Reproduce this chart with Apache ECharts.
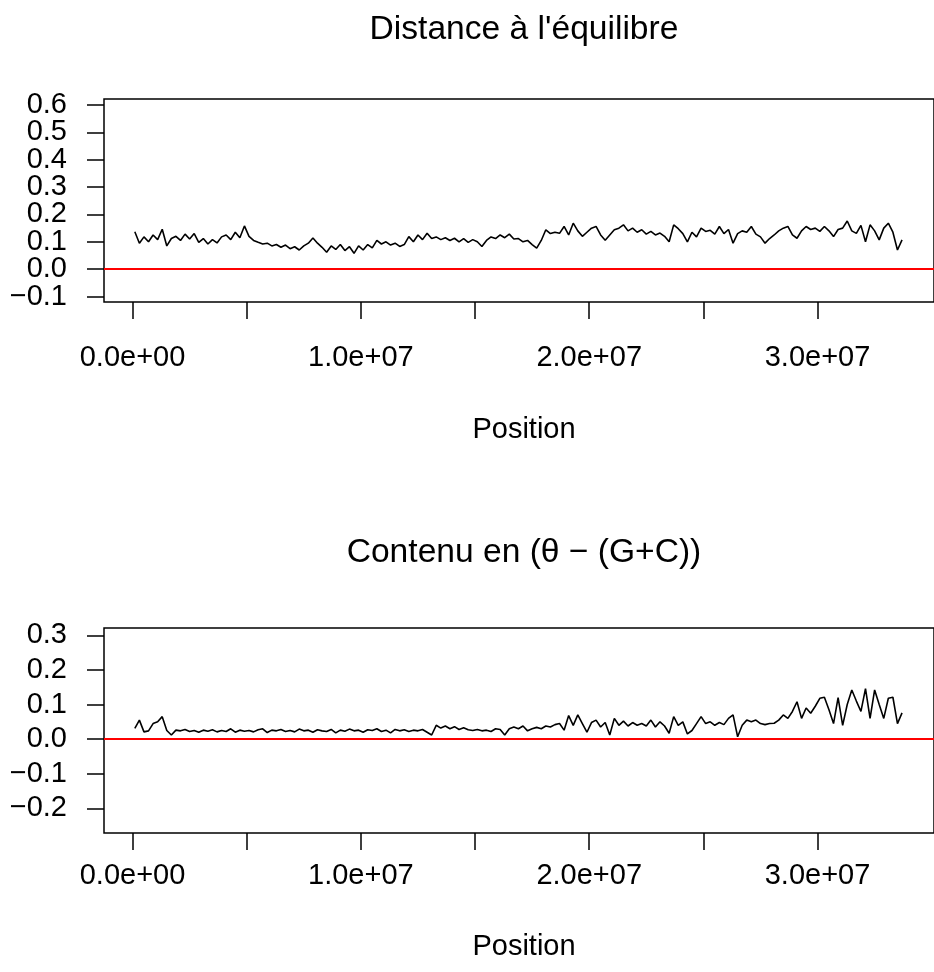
<!DOCTYPE html>
<html>
<head>
<meta charset="utf-8">
<script src="https://cdn.jsdelivr.net/npm/echarts@6/dist/echarts.min.js"></script>
<style>html,body{margin:0;padding:0;background:#fff;}#c{width:934px;height:972px;}</style>
</head>
<body>
<div id="c"></div>
<script>
const positionMb = [0.1,0.3,0.5,0.7,0.9,1.1,1.3,1.5,1.7,1.9,2.1,2.3,2.5,2.7,2.9,3.1,3.3,3.5,3.7,3.9,4.1,4.3,4.5,4.7,4.9,5.1,5.3,5.5,5.7,5.9,6.1,6.3,6.5,6.7,6.9,7.1,7.3,7.5,7.7,7.9,8.1,8.3,8.5,8.7,8.9,9.1,9.3,9.5,9.7,9.9,10.1,10.3,10.5,10.7,10.9,11.1,11.3,11.5,11.7,11.9,12.1,12.3,12.5,12.7,12.9,13.1,13.3,13.5,13.7,13.9,14.1,14.3,14.5,14.7,14.9,15.1,15.3,15.5,15.7,15.9,16.1,16.3,16.5,16.7,16.9,17.1,17.3,17.5,17.7,17.9,18.1,18.3,18.5,18.7,18.9,19.1,19.3,19.5,19.7,19.9,20.1,20.3,20.5,20.7,20.9,21.1,21.3,21.5,21.7,21.9,22.1,22.3,22.5,22.7,22.9,23.1,23.3,23.5,23.7,23.9,24.1,24.3,24.5,24.7,24.9,25.1,25.3,25.5,25.7,25.9,26.1,26.3,26.5,26.7,26.9,27.1,27.3,27.5,27.7,27.9,28.1,28.3,28.5,28.7,28.9,29.1,29.3,29.5,29.7,29.9,30.1,30.3,30.5,30.7,30.9,31.1,31.3,31.5,31.7,31.9,32.1,32.3,32.5,32.7,32.9,33.1,33.3,33.5,33.7];

const distanceEquilibre = [0.137,0.095,0.118,0.100,0.125,0.108,0.146,0.085,0.112,0.120,0.105,0.128,0.110,0.130,0.098,0.112,0.092,0.108,0.096,0.118,0.125,0.108,0.135,0.115,0.158,0.120,0.105,0.098,0.092,0.095,0.085,0.090,0.080,0.088,0.075,0.082,0.070,0.085,0.095,0.114,0.095,0.080,0.062,0.085,0.072,0.090,0.068,0.082,0.058,0.085,0.070,0.090,0.078,0.105,0.092,0.100,0.088,0.095,0.083,0.090,0.119,0.100,0.125,0.108,0.131,0.112,0.118,0.108,0.115,0.105,0.113,0.100,0.112,0.098,0.108,0.100,0.083,0.105,0.118,0.112,0.125,0.115,0.128,0.110,0.112,0.100,0.105,0.090,0.077,0.105,0.144,0.130,0.135,0.131,0.156,0.125,0.168,0.140,0.120,0.135,0.150,0.156,0.125,0.106,0.125,0.144,0.150,0.162,0.140,0.150,0.135,0.144,0.128,0.138,0.125,0.132,0.120,0.100,0.162,0.148,0.130,0.100,0.135,0.118,0.150,0.138,0.142,0.128,0.156,0.130,0.145,0.095,0.130,0.140,0.135,0.156,0.128,0.118,0.095,0.112,0.125,0.140,0.150,0.156,0.125,0.113,0.140,0.156,0.145,0.150,0.138,0.156,0.140,0.119,0.145,0.150,0.176,0.140,0.131,0.160,0.100,0.162,0.140,0.107,0.150,0.168,0.135,0.070,0.107];

const contenuThetaGC = [0.031,0.055,0.021,0.024,0.045,0.050,0.065,0.025,0.012,0.026,0.024,0.028,0.022,0.025,0.020,0.026,0.023,0.027,0.021,0.025,0.022,0.030,0.020,0.026,0.023,0.025,0.021,0.027,0.030,0.019,0.026,0.024,0.028,0.022,0.025,0.021,0.029,0.024,0.026,0.020,0.027,0.024,0.022,0.028,0.018,0.026,0.023,0.029,0.024,0.026,0.020,0.027,0.025,0.030,0.022,0.026,0.018,0.028,0.024,0.027,0.022,0.026,0.024,0.028,0.020,0.012,0.040,0.032,0.038,0.030,0.036,0.028,0.033,0.027,0.025,0.028,0.024,0.026,0.022,0.030,0.028,0.012,0.030,0.035,0.030,0.038,0.024,0.030,0.034,0.030,0.038,0.035,0.042,0.045,0.026,0.068,0.040,0.070,0.045,0.020,0.048,0.055,0.035,0.048,0.012,0.060,0.040,0.052,0.038,0.048,0.040,0.045,0.038,0.055,0.035,0.050,0.038,0.017,0.065,0.040,0.050,0.015,0.025,0.045,0.065,0.045,0.050,0.040,0.048,0.042,0.060,0.070,0.007,0.040,0.055,0.050,0.055,0.045,0.042,0.045,0.046,0.055,0.070,0.060,0.080,0.108,0.060,0.090,0.075,0.095,0.118,0.121,0.085,0.045,0.120,0.040,0.100,0.142,0.110,0.080,0.146,0.060,0.142,0.100,0.060,0.118,0.121,0.045,0.076];

const xTickValues = [0, 5e6, 1e7, 1.5e7, 2e7, 2.5e7, 3e7];
const xLabelValues = [0, 1e7, 2e7, 3e7];
const yTicksTopA = [-0.1, 0.1, 0.3, 0.5];
const yTicksTopB = [0, 0.2, 0.4, 0.6];
const yTicksBottom = [-0.2, -0.1, 0, 0.1, 0.2, 0.3];
const titleTop = "Distance à l'équilibre";
const titleBottom = "Contenu en (θ − (G+C))";
const xName = "Position";

const FONT = "'Liberation Sans', Arial, Helvetica, sans-serif";
const chart = echarts.init(document.getElementById('c'), null, {renderer: 'canvas'});

function sciLabel(v) {
  if (v === 0) return '0.0e+00';
  const e = Math.floor(Math.log10(Math.abs(v)) + 1e-9);
  const m = v / Math.pow(10, e);
  return m.toFixed(1) + 'e+' + String(e).padStart(2, '0');
}
function yLabel(v) {
  const s = Math.abs(v) < 1e-9 ? '0.0' : v.toFixed(1);
  return s.replace('-', '\u2212');
}
const pairs = (vals) => vals.map((v, i) => [positionMb[i] * 1e6, v]);

function xAxisCfg(gridIndex, margin) {
  return {
    type: 'value', gridIndex: gridIndex, position: 'bottom', min: -1.25e6, max: 35.1e6,
    axisLine: {show: false, onZero: false},
    splitLine: {show: false},
    axisTick: {show: true, inside: false, customValues: xTickValues, length: 17, lineStyle: {color: '#000', width: 1.5}},
    axisLabel: {customValues: xLabelValues, formatter: sciLabel, margin: margin, hideOverlap: false,
      fontSize: 29, fontFamily: FONT, color: '#000', showMinLabel: true, showMaxLabel: true}
  };
}
function yAxisCfg(gridIndex, min, max, ticks) {
  return {
    type: 'value', gridIndex: gridIndex, position: 'left', offset: 0, min: min, max: max,
    axisLine: {show: false, onZero: false},
    splitLine: {show: false},
    axisTick: {show: true, inside: false, customValues: ticks, length: 17, lineStyle: {color: '#000', width: 1.5}},
    axisLabel: {customValues: ticks, formatter: yLabel, margin: 37, hideOverlap: false,
      fontSize: 29, fontFamily: FONT, color: '#000', showMinLabel: true, showMaxLabel: true}
  };
}
function lineSeries(xIdx, yIdx, vals) {
  return {
    type: 'line', xAxisIndex: xIdx, yAxisIndex: yIdx, data: pairs(vals),
    symbol: 'none', showSymbol: false, smooth: false,
    lineStyle: {color: '#000', width: 1.6},
    markLine: {silent: true, symbol: 'none', label: {show: false},
      lineStyle: {color: '#ff0000', width: 2, type: 'solid'},
      data: [{yAxis: 0}], animation: false},
    z: 3
  };
}

chart.setOption({
  animation: false,
  backgroundColor: '#fff',
  grid: [
    {left: 104, top: 99, width: 840, height: 203, show: true, borderColor: '#000', borderWidth: 1.5, backgroundColor: 'transparent'},
    {left: 104, top: 628, width: 840, height: 205, show: true, borderColor: '#000', borderWidth: 1.5, backgroundColor: 'transparent'}
  ],
  xAxis: [xAxisCfg(0, 41), xAxisCfg(1, 28)],
  yAxis: [
    yAxisCfg(0, -0.12, 0.622, yTicksTopA),
    yAxisCfg(1, -0.271, 0.321, yTicksBottom),
    yAxisCfg(0, -0.12, 0.622, yTicksTopB)
  ],
  series: [lineSeries(0, 0, distanceEquilibre), lineSeries(1, 1, contenuThetaGC)],
  graphic: [
    {type: 'text', x: 524, y: 30, style: {text: titleTop, fontSize: 33.6, fontFamily: FONT, fill: '#000', align: 'center', verticalAlign: 'middle'}},
    {type: 'text', x: 524, y: 553, style: {text: titleBottom, fontSize: 33.6, fontFamily: FONT, fill: '#000', align: 'center', verticalAlign: 'middle'}},
    {type: 'text', x: 524, y: 430, style: {text: xName, fontSize: 29, fontFamily: FONT, fill: '#000', align: 'center', verticalAlign: 'middle'}},
    {type: 'text', x: 524, y: 947, style: {text: xName, fontSize: 29, fontFamily: FONT, fill: '#000', align: 'center', verticalAlign: 'middle'}}
  ]
});
</script>
</body>
</html>
